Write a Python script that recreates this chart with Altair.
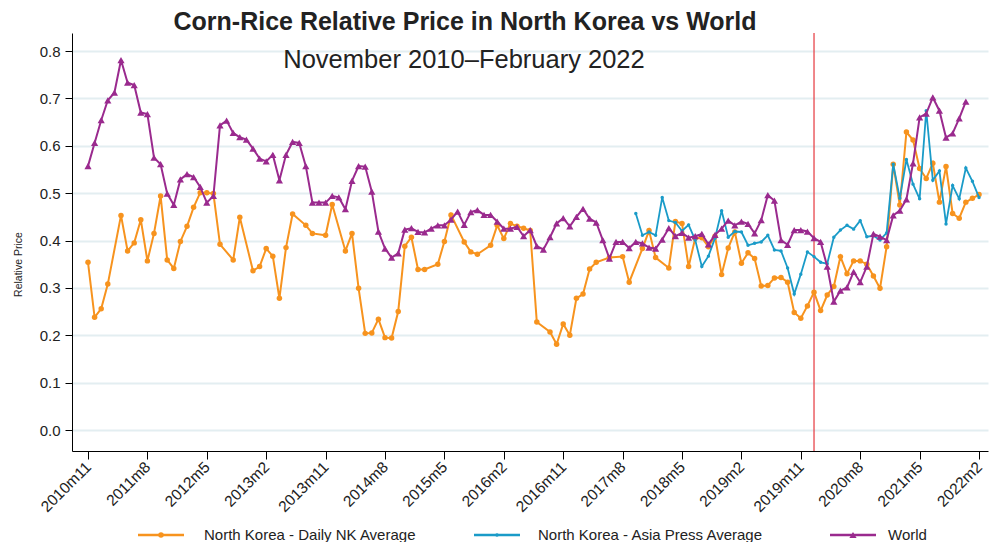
import altair as alt
import pandas as pd

# ---------------- data ----------------
# month index 0 = 2010m11 ... 135 = 2022m2
n_months = 136
tick_values = [0, 9, 18, 27, 36, 45, 54, 63, 72, 81, 90, 99, 108, 117, 126, 135]
tick_labels = ["2010m11", "2011m8", "2012m5", "2013m2", "2013m11", "2014m8", "2015m5",
               "2016m2", "2016m11", "2017m8", "2018m5", "2019m2", "2019m11", "2020m8",
               "2021m5", "2022m2"]

series_names = ["North Korea - Daily NK Average", "North Korea - Asia Press Average", "World"]
series_colors = ["#F7931E", "#1A9BC8", "#9A2A8E"]
series_shapes = ["circle", "circle", "triangle-up"]
series_sizes = [30, 12, 52]

daily_nk = [
    0.354, 0.238, 0.256, 0.308, None, 0.453, 0.378, 0.395, 0.444, 0.357,
    0.415, 0.494, 0.359, 0.341, 0.398, 0.430, 0.470, 0.501, 0.501, 0.499,
    0.392, None, 0.359, 0.449, None, 0.336, 0.345, 0.383, 0.367, 0.278,
    0.385, 0.456, None, 0.432, 0.415, None, 0.411, 0.476, None, 0.378,
    0.415, 0.299, 0.204, 0.205, 0.234, 0.195, 0.194, 0.250, 0.388, 0.407,
    0.339, 0.339, None, 0.350, 0.398, 0.454, None, 0.397, 0.376, 0.371,
    None, 0.390, 0.432, 0.404, 0.436, 0.430, 0.426, 0.421, 0.228, None,
    0.207, 0.181, 0.224, 0.200, 0.278, 0.287, 0.340, 0.354, None, 0.364,
    None, 0.366, 0.312, None, 0.383, 0.421, 0.364, None, 0.342, 0.440,
    0.436, 0.345, 0.405, 0.406, 0.387, 0.409, 0.328, 0.384, 0.418, 0.352,
    0.374, 0.362, 0.304, 0.305, 0.321, 0.322, 0.312, 0.248, 0.236, 0.262,
    0.291, 0.252, 0.285, 0.303, 0.366, 0.330, 0.357, 0.357, 0.350, 0.325,
    0.299, 0.387, 0.561, 0.475, 0.629, 0.612, 0.552, 0.531, 0.563, 0.481,
    0.556, 0.457, 0.447, 0.481, 0.489, 0.497,
]

asia_press_start = 83  # 2017m10
asia_press = [
    0.457, 0.411, 0.418, 0.411, 0.491, 0.442, 0.438, 0.420, 0.433, 0.401,
    0.345, 0.367, 0.405, 0.463, 0.407, 0.419, 0.418, 0.390, 0.394, 0.397,
    0.411, 0.380, 0.378, 0.342, 0.287, 0.329, 0.376, 0.366, 0.354, 0.351,
    0.407, 0.422, 0.432, 0.424, 0.442, 0.408, 0.410, 0.401, 0.416, 0.561,
    0.489, 0.571, 0.519, 0.488, 0.674, 0.527, 0.547, 0.435, 0.516, 0.488,
    0.553, 0.525, 0.491,
]

world = [
    0.557, 0.606, 0.654, 0.696, 0.712, 0.781, 0.733, 0.728, 0.670, 0.667,
    0.575, 0.561, 0.499, 0.475, 0.529, 0.540, 0.534, 0.513, 0.480, 0.494,
    0.643, 0.653, 0.627, 0.618, 0.613, 0.594, 0.573, 0.567, 0.581, 0.527,
    0.581, 0.608, 0.606, 0.557, 0.480, 0.480, 0.480, 0.494, 0.491, 0.466,
    0.526, 0.557, 0.556, 0.503, 0.419, 0.383, 0.364, 0.373, 0.423, 0.426,
    0.418, 0.417, 0.425, 0.432, 0.432, 0.444, 0.461, 0.433, 0.460, 0.464,
    0.454, 0.454, 0.440, 0.425, 0.425, 0.429, 0.409, 0.422, 0.388, 0.381,
    0.407, 0.436, 0.447, 0.430, 0.450, 0.467, 0.446, 0.438, 0.401, 0.362,
    0.397, 0.397, 0.384, 0.397, 0.394, 0.385, 0.383, 0.402, 0.426, 0.409,
    0.416, 0.406, 0.409, 0.414, 0.392, 0.412, 0.425, 0.442, 0.432, 0.440,
    0.435, 0.415, 0.443, 0.496, 0.484, 0.401, 0.391, 0.422, 0.422, 0.419,
    0.405, 0.397, 0.345, 0.271, 0.294, 0.301, 0.334, 0.312, 0.345, 0.414,
    0.408, 0.401, 0.453, 0.463, 0.487, 0.563, 0.660, 0.668, 0.702, 0.674,
    0.617, 0.626, 0.658, 0.693,
]

border_closure_month = 110  # 2020m1 (red vertical line)

title_text = "Corn-Rice Relative Price in North Korea vs World"
subtitle_text = "November 2010\u2013February 2022"
y_title = "Relative Price"

# ---------------- build table ----------------
rows = []
for i, v in enumerate(daily_nk):
    if v is not None:
        rows.append({"idx": i, "value": v, "series": series_names[0]})
for j, v in enumerate(asia_press):
    if v is not None:
        rows.append({"idx": asia_press_start + j, "value": v, "series": series_names[1]})
for i, v in enumerate(world):
    if v is not None:
        rows.append({"idx": i, "value": v, "series": series_names[2]})
df = pd.DataFrame(rows)

FONT = "Liberation Sans, Arial, sans-serif"

label_expr = "[" + ",".join("'%s'" % t for t in tick_labels) + "][round(datum.value/9)]"

x_scale = alt.Scale(domain=[-2.424, 136.36], nice=False, zero=False)
y_scale = alt.Scale(domain=[-0.0443, 0.838], nice=False, zero=False)

x_enc = alt.X("idx:Q", scale=x_scale,
              axis=alt.Axis(values=tick_values, labelExpr=label_expr, title=None,
                            labelAngle=315, labelAlign="right", labelBaseline="middle",
                            labelPadding=5, tickSize=8, domainColor="#000", tickColor="#000",
                            labelFontSize=15.5, labelColor="#222", grid=False, labelFont=FONT,
                            labelOverlap=False, labelBound=False, labelFlush=False))
y_enc = alt.Y("value:Q", scale=y_scale,
              axis=alt.Axis(values=[0, 0.1, 0.2, 0.3, 0.4, 0.5, 0.6, 0.7, 0.8], format=".1f",
                            title=y_title, titleFontSize=10.5, titleFontWeight="normal",
                            titleFont=FONT, titleAngle=270, titleX=-54, titleY=231,
                            titleAlign="center", titleBaseline="middle", titleColor="#222",
                            labelFontSize=15, labelColor="#222", labelFont=FONT, labelPadding=5,
                            tickSize=7, domainColor="#000", tickColor="#000",
                            grid=True, gridColor="#E3EEF1", gridWidth=2,
                            labelOverlap=False))

layers = []

# red vertical line
layers.append(
    alt.Chart(pd.DataFrame({"idx": [border_closure_month]}))
    .mark_rule(color="#E8474C", strokeWidth=1.3)
    .encode(x=alt.X("idx:Q", scale=x_scale))
)

for k, name in enumerate(series_names):
    sub = alt.Chart(df).transform_filter(alt.datum.series == name)
    layers.append(
        sub.mark_line(color=series_colors[k], strokeWidth=2 if k != 1 else 1.8)
        .encode(x=x_enc, y=y_enc, order="idx:Q")
    )
    layers.append(
        sub.mark_point(filled=True, opacity=1, color=series_colors[k],
                       shape=series_shapes[k], size=series_sizes[k])
        .encode(x=x_enc, y=y_enc)
    )

# title & subtitle
layers.append(
    alt.Chart(pd.DataFrame({"t": [title_text]}))
    .mark_text(font=FONT, fontSize=25, fontWeight="bold", color="#222", align="center",
               baseline="middle")
    .encode(text="t:N", x=alt.value(393), y=alt.value(-11))
)
layers.append(
    alt.Chart(pd.DataFrame({"t": [subtitle_text]}))
    .mark_text(font=FONT, fontSize=25.5, color="#222", align="center", baseline="middle")
    .encode(text="t:N", x=alt.value(392), y=alt.value(27))
)

# legend (manual, below the axis)
legend_sym_cx = [89, 425, 781]
legend_label_x = [132, 466, 816]
legend_y = 502
for k, name in enumerate(series_names):
    lg = alt.Chart(pd.DataFrame({"t": [name]}))
    layers.append(
        lg.mark_rule(color=series_colors[k], strokeWidth=2.5)
        .encode(x=alt.value(legend_sym_cx[k] - 23), x2=alt.value(legend_sym_cx[k] + 23),
                y=alt.value(legend_y))
    )
    layers.append(
        lg.mark_point(filled=True, opacity=1, color=series_colors[k], shape=series_shapes[k],
                      size=series_sizes[k])
        .encode(x=alt.value(legend_sym_cx[k]), y=alt.value(legend_y))
    )
    layers.append(
        lg.mark_text(font=FONT, fontSize=15, color="#222", align="left", baseline="middle")
        .encode(text="t:N", x=alt.value(legend_label_x[k]), y=alt.value(legend_y))
    )

chart = (
    alt.layer(*layers)
    .properties(width=916, height=418,
                autosize=alt.AutoSizeParams(type="none"),
                padding={"left": 64, "top": 25, "right": 2, "bottom": 91},
                background="white")
    .configure_view(stroke=None)
)

chart.save("out.html", embed_options={"renderer": "svg", "actions": False})
